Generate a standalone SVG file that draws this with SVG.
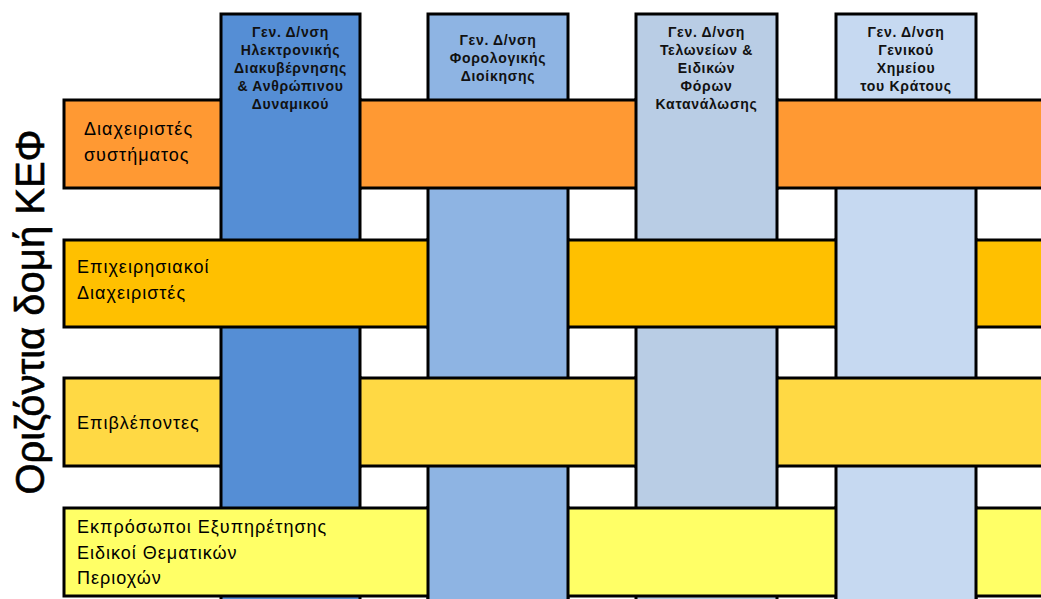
<svg xmlns="http://www.w3.org/2000/svg" width="1041" height="599" viewBox="0 0 1041 599">
<style>
.bar{stroke:#000;stroke-width:3}
.edge{stroke:#000;stroke-width:3}
.c1{fill:#558ED5}.c2{fill:#8EB4E3}.c3{fill:#B9CDE5}.c4{fill:#C6D9F1}
.r1{fill:#FF9933}.r2{fill:#FFC000}.r3{fill:#FFD944}.r4{fill:#FFFF66}
.hdr{font-family:"Liberation Sans",Arial,sans-serif;font-size:14px;font-weight:bold;fill:#111;text-anchor:middle;letter-spacing:0.7px}
.lbl{font-family:"Liberation Sans",Arial,sans-serif;font-size:18px;fill:#000;letter-spacing:1px}
.side{font-family:"Liberation Sans",Arial,sans-serif;font-size:40px;fill:#000;stroke:#000;stroke-width:0.6;text-anchor:middle}
</style>
<rect width="1041" height="599" fill="#fff"/>
<g id="columns">
<g id="col1"><rect class="bar c1" x="221" y="14" width="139" height="600"/></g>
<g id="col2"><rect class="bar c2" x="428" y="14" width="140" height="600"/></g>
<g id="col3"><rect class="bar c3" x="636" y="14" width="141" height="600"/></g>
<g id="col4"><rect class="bar c4" x="836" y="14" width="140" height="600"/></g>
</g>
<g id="rows">
<g id="row1"><rect class="bar r1" x="64" y="100" width="1000" height="88"/>
<text class="lbl" x="84" y="135">Διαχειριστές</text><text class="lbl" x="84" y="161">συστήματος</text></g>
<g id="row2"><rect class="bar r2" x="64" y="240" width="1000" height="87"/>
<text class="lbl" x="77" y="273">Επιχειρησιακοί</text><text class="lbl" x="77" y="299">Διαχειριστές</text></g>
<g id="row3"><rect class="bar r3" x="64" y="378" width="1000" height="88"/>
<text class="lbl" x="77" y="429">Επιβλέποντες</text></g>
<g id="row4"><rect class="bar r4" x="64" y="508" width="1000" height="88"/></g>
</g>
<g id="weave">
<rect class="c1" x="221" y="98" width="139" height="92"/><path class="edge" d="M221 98V190M360 98V190"/>
<rect class="c1" x="221" y="376" width="139" height="92"/><path class="edge" d="M221 376V468M360 376V468"/>
<rect class="c3" x="636" y="98" width="141" height="92"/><path class="edge" d="M636 98V190M777 98V190"/>
<rect class="c3" x="636" y="376" width="141" height="92"/><path class="edge" d="M636 376V468M777 376V468"/>
<rect class="c2" x="428" y="238" width="140" height="91"/><path class="edge" d="M428 238V329M568 238V329"/>
<rect class="c2" x="428" y="506" width="140" height="100"/><path class="edge" d="M428 506V606M568 506V606"/>
<rect class="c4" x="836" y="238" width="140" height="91"/><path class="edge" d="M836 238V329M976 238V329"/>
<rect class="c4" x="836" y="506" width="140" height="100"/><path class="edge" d="M836 506V606M976 506V606"/>
</g>
<g id="row4-label">
<text class="lbl" x="77" y="533">Εκπρόσωποι Εξυπηρέτησης</text>
<text class="lbl" x="77" y="559">Ειδικοί Θεματικών</text>
<text class="lbl" x="77" y="584">Περιοχών</text>
</g>
<g id="col1-label" class="hdr">
<text x="290.5" y="37">Γεν. Δ/νση</text><text x="290.5" y="55">Ηλεκτρονικής</text><text x="290.5" y="73">Διακυβέρνησης</text><text x="290.5" y="91">&amp; Ανθρώπινου</text><text x="290.5" y="109">Δυναμικού</text>
</g>
<g id="col2-label" class="hdr">
<text x="498" y="45">Γεν. Δ/νση</text><text x="498" y="63">Φορολογικής</text><text x="498" y="81">Διοίκησης</text>
</g>
<g id="col3-label" class="hdr">
<text x="706.5" y="37">Γεν. Δ/νση</text><text x="706.5" y="55">Τελωνείων &amp;</text><text x="706.5" y="73">Ειδικών</text><text x="706.5" y="91">Φόρων</text><text x="706.5" y="109">Κατανάλωσης</text>
</g>
<g id="col4-label" class="hdr">
<text x="906" y="37">Γεν. Δ/νση</text><text x="906" y="55">Γενικού</text><text x="906" y="73">Χημείου</text><text x="906" y="91">του Κράτους</text>
</g>
<g id="side-title">
<text class="side" transform="translate(44,312) rotate(-90)" textLength="365" lengthAdjust="spacingAndGlyphs">Οριζόντια δομή ΚΕΦ</text>
</g>
</svg>
